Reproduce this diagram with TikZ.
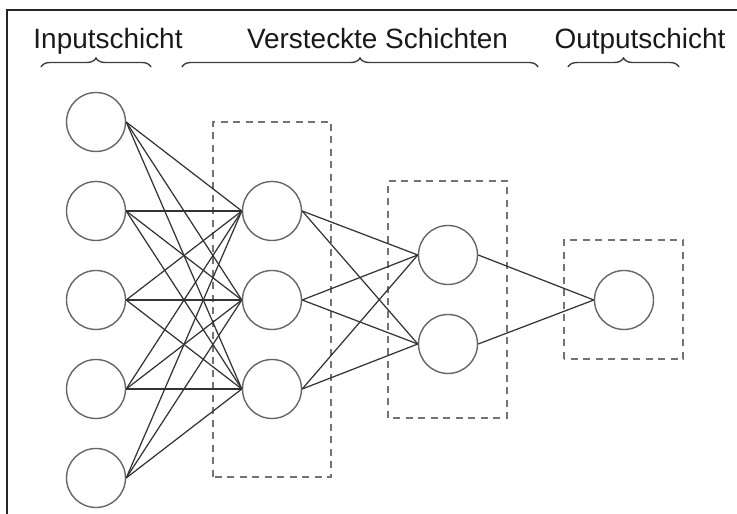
\documentclass[tikz,border=0pt]{standalone}
\usepackage{fontspec}
\setmainfont{Liberation Sans}
\usepackage{tikz}
\usetikzlibrary{decorations.pathreplacing}

\begin{document}
\begin{tikzpicture}[
  neuron/.style={circle, draw=black!60, line width=0.8pt, minimum size=1.18cm, inner sep=0pt},
  kante/.style={draw=black!80, line width=0.7pt},
  schicht/.style={draw=black!55, line width=0.9pt, dash pattern=on 0.14cm off 0.11cm},
  klammer/.style={draw=black!75, line width=0.8pt, decorate, decoration={brace, amplitude=0.18cm}},
  titel/.style={anchor=base, text=black!90, font=\fontsize{15.9}{18}\selectfont}
]

\useasboundingbox (0,0) rectangle (14.74,10.28);

% Rahmen
\draw[black!85, line width=1.1pt] (0.14,0) -- (0.14,10.08) -- (14.74,10.08);

% Kaesten um die Schichten
\draw[schicht] (4.26,0.74) rectangle (6.62,7.84);
\draw[schicht] (7.76,1.92) rectangle (10.14,6.66);
\draw[schicht] (11.28,3.10) rectangle (13.66,5.48);

% Inputschicht
\node[neuron] (in1) at (1.92,7.84) {};
\node[neuron] (in2) at (1.92,6.06) {};
\node[neuron] (in3) at (1.92,4.28) {};
\node[neuron] (in4) at (1.92,2.50) {};
\node[neuron] (in5) at (1.92,0.72) {};

% Versteckte Schichten
\node[neuron] (va1) at (5.44,6.06) {};
\node[neuron] (va2) at (5.44,4.28) {};
\node[neuron] (va3) at (5.44,2.50) {};
\node[neuron] (vb1) at (8.96,5.18) {};
\node[neuron] (vb2) at (8.96,3.40) {};

% Outputschicht
\node[neuron] (out) at (12.48,4.28) {};

% Kanten Input -> erste versteckte Schicht
\draw[kante] (in1.east) -- (va1.west); \draw[kante] (in1.east) -- (va2.west); \draw[kante] (in1.east) -- (va3.west);
\draw[kante] (in2.east) -- (va1.west); \draw[kante] (in2.east) -- (va2.west); \draw[kante] (in2.east) -- (va3.west);
\draw[kante] (in3.east) -- (va1.west); \draw[kante] (in3.east) -- (va2.west); \draw[kante] (in3.east) -- (va3.west);
\draw[kante] (in4.east) -- (va1.west); \draw[kante] (in4.east) -- (va2.west); \draw[kante] (in4.east) -- (va3.west);
\draw[kante] (in5.east) -- (va1.west); \draw[kante] (in5.east) -- (va2.west); \draw[kante] (in5.east) -- (va3.west);

% Kanten erste -> zweite versteckte Schicht
\draw[kante] (va1.east) -- (vb1.west); \draw[kante] (va1.east) -- (vb2.west);
\draw[kante] (va2.east) -- (vb1.west); \draw[kante] (va2.east) -- (vb2.west);
\draw[kante] (va3.east) -- (vb1.west); \draw[kante] (va3.east) -- (vb2.west);

% Kanten zweite versteckte Schicht -> Output
\draw[kante] (vb1.east) -- (out.west);
\draw[kante] (vb2.east) -- (out.west);

% Klammern
\draw[klammer] (0.82,8.94) -- (3.02,8.94);
\draw[klammer] (3.64,8.94) -- (10.76,8.94);
\draw[klammer] (11.36,8.94) -- (13.58,8.94);

% Beschriftungen
\node[titel] (tin) at (2.16,9.30) {Inputschicht};
\node[titel] (tvs) at (7.55,9.30) {Versteckte Schichten};
\node[titel] (tout) at (12.80,9.30) {Outputschicht};
\end{tikzpicture}
\end{document}
